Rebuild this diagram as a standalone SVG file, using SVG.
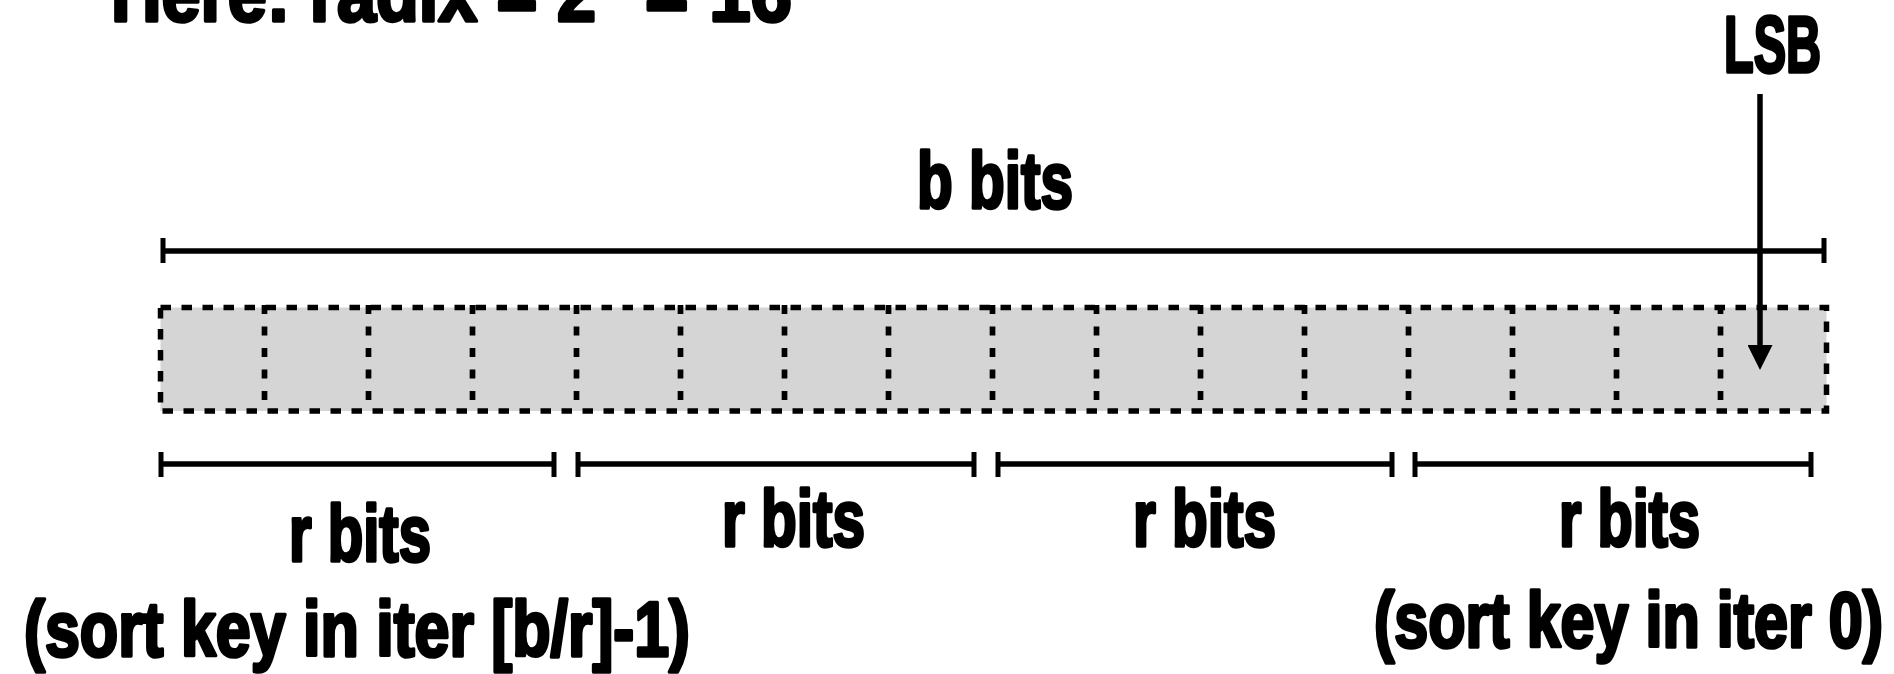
<svg xmlns="http://www.w3.org/2000/svg" width="1894" height="674" viewBox="0 0 1894 674">
  <style>
    .lbl { font-family: "Liberation Sans", Arial, sans-serif; font-weight: 700; font-size: 79px; fill: #000; stroke: #000; stroke-width: 3.5; stroke-linejoin: round; }
    .sub { font-size: 77px; }
    .dim { stroke: #000; stroke-width: 5.5; fill: none; }
    .tick { stroke: #000; stroke-width: 5; fill: none; }
    .cell { stroke: #000; stroke-width: 5.7; stroke-dasharray: 9 12.5; fill: none; }
    .box { fill: #d5d5d5; stroke: #000; stroke-width: 5.5; stroke-dasharray: 10.5 10.5; }
    .arrow { stroke: #000; stroke-width: 5.5; fill: none; }
  </style>
  <defs>
    <marker id="head" markerUnits="userSpaceOnUse" markerWidth="25" markerHeight="25" refX="15" refY="12.5" orient="auto">
      <path d="M0,0 L25,12.5 L0,25 Z" fill="#000"/>
    </marker>
  </defs>

  <g id="title">
    <text class="lbl" x="111" y="21" textLength="485" lengthAdjust="spacingAndGlyphs">Here: radix = 2</text>
    <text class="lbl" x="645" y="21" textLength="147" lengthAdjust="spacingAndGlyphs">= 16</text>
  </g>

  <g id="key-box">
    <rect class="box" x="160.5" y="307.5" width="1666" height="103.5"/>
    <g id="cells">
      <line class="cell" x1="264.5" y1="305" x2="264.5" y2="411"/>
      <line class="cell" x1="368.5" y1="305" x2="368.5" y2="411"/>
      <line class="cell" x1="472.5" y1="305" x2="472.5" y2="411"/>
      <line class="cell" x1="576.5" y1="305" x2="576.5" y2="411"/>
      <line class="cell" x1="680.5" y1="305" x2="680.5" y2="411"/>
      <line class="cell" x1="784.5" y1="305" x2="784.5" y2="411"/>
      <line class="cell" x1="888.5" y1="305" x2="888.5" y2="411"/>
      <line class="cell" x1="992.5" y1="305" x2="992.5" y2="411"/>
      <line class="cell" x1="1096.5" y1="305" x2="1096.5" y2="411"/>
      <line class="cell" x1="1200.5" y1="305" x2="1200.5" y2="411"/>
      <line class="cell" x1="1304.5" y1="305" x2="1304.5" y2="411"/>
      <line class="cell" x1="1408.5" y1="305" x2="1408.5" y2="411"/>
      <line class="cell" x1="1512.5" y1="305" x2="1512.5" y2="411"/>
      <line class="cell" x1="1616.5" y1="305" x2="1616.5" y2="411"/>
      <line class="cell" x1="1720.5" y1="305" x2="1720.5" y2="411"/>
    </g>
  </g>

  <g id="b-bits">
    <text class="lbl" x="917" y="208" textLength="156" lengthAdjust="spacingAndGlyphs">b bits</text>
    <line class="dim" x1="163" y1="251" x2="1824" y2="251"/>
    <line class="tick" x1="163" y1="238" x2="163" y2="263"/>
    <line class="tick" x1="1824" y1="238" x2="1824" y2="263"/>
  </g>

  <g id="lsb">
    <text class="lbl" x="1724" y="71.5" textLength="97" lengthAdjust="spacingAndGlyphs">LSB</text>
  </g>

  <g id="r-bits-1">
    <line class="dim" x1="161" y1="464" x2="554" y2="464"/>
    <line class="tick" x1="161" y1="452" x2="161" y2="477"/>
    <line class="tick" x1="554" y1="452" x2="554" y2="477"/>
    <text class="lbl" x="289" y="561" textLength="142" lengthAdjust="spacingAndGlyphs">r bits</text>
    <text class="lbl sub" x="24" y="656" textLength="666" lengthAdjust="spacingAndGlyphs">(sort key in iter [b/r]-1)</text>
  </g>

  <g id="r-bits-2">
    <line class="dim" x1="578" y1="464" x2="974" y2="464"/>
    <line class="tick" x1="578" y1="452" x2="578" y2="477"/>
    <line class="tick" x1="974" y1="452" x2="974" y2="477"/>
    <text class="lbl" x="722" y="546" textLength="143" lengthAdjust="spacingAndGlyphs">r bits</text>
  </g>

  <g id="r-bits-3">
    <line class="dim" x1="998" y1="464" x2="1392" y2="464"/>
    <line class="tick" x1="998" y1="452" x2="998" y2="477"/>
    <line class="tick" x1="1392" y1="452" x2="1392" y2="477"/>
    <text class="lbl" x="1133" y="546" textLength="143" lengthAdjust="spacingAndGlyphs">r bits</text>
  </g>

  <g id="r-bits-4">
    <line class="dim" x1="1415" y1="464" x2="1811" y2="464"/>
    <line class="tick" x1="1415" y1="452" x2="1415" y2="477"/>
    <line class="tick" x1="1811" y1="452" x2="1811" y2="477"/>
    <text class="lbl" x="1559" y="546" textLength="141" lengthAdjust="spacingAndGlyphs">r bits</text>
    <text class="lbl sub" x="1374" y="647" textLength="509" lengthAdjust="spacingAndGlyphs">(sort key in iter 0)</text>
  </g>

  <g id="connectors">
    <line class="arrow" x1="1760" y1="94" x2="1760" y2="360" marker-end="url(#head)"/>
  </g>
</svg>
